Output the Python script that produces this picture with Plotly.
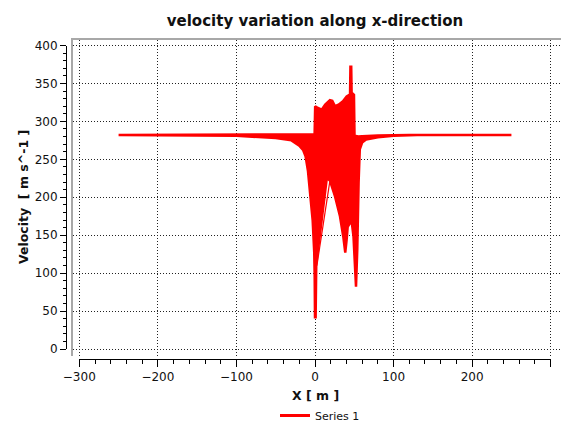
import plotly.graph_objects as go

# ---- data: velocity sampled along the x-direction line ----
# upper envelope of the sampled velocities
x_upper = [-250, -100, -50, -10, -3, -0.5, 0.2, 3, 8.5, 13, 19, 22, 25.5, 30, 35.6,
           40.3, 43.7, 44.6, 45.1, 46.1, 46.6, 48, 49.6, 50.3, 55, 60, 80, 120, 250]
v_upper = [282, 282.5, 282.5, 283, 283, 283, 320, 318, 315.5, 322, 328, 327, 320, 322, 326.5,
           333, 335, 336, 372, 372, 338, 336, 335, 281, 280, 280.5, 281.5, 282, 282]

# lower envelope of the sampled velocities
x_lower = [-250, -100, -50, -30, -20, -15, -12, -9, -6, -3, -1, -0.4, 0, 0.8, 1.6, 15, 19,
           25.5, 31.8, 36, 38.5, 40.3, 41.6, 44.6, 46.7, 49, 52.2, 53.8, 55.5, 57, 60, 65,
           80, 100, 130, 250]
v_lower = [282, 281, 278, 275, 268, 262, 254, 235, 205, 170, 128, 95, 42, 42, 112, 225, 222,
           201, 175, 148, 127, 144, 161, 166, 168, 148, 82, 131, 219, 263, 272, 276,
           279, 281, 282, 282]

# stray segment crossing the gap just right of x = 0
x_seg = [2.4, 19]
v_seg = [110, 222]

x_ticks = [-300, -200, -100, 0, 100, 200, 300]
y_ticks = [0, 50, 100, 150, 200, 250, 300, 350, 400]

# ---- layout geometry (pixels) ----
W, H = 561, 422
X_LEFT, X_RIGHT = 79.3, 550.7      # x = -300 and x = 300
Y_TOP, Y_BOT = 45.5, 349.0         # v = 400 and v = 0
FRAME_L, FRAME_T, FRAME_R, FRAME_B = 73, 40, 561, 356
X_AXIS_Y = 359                     # detached x axis line
Y_AXIS_X = 66                      # detached y axis line

sx = (X_RIGHT - X_LEFT) / (x_ticks[-1] - x_ticks[0])
sy = (Y_BOT - Y_TOP) / (y_ticks[-1] - y_ticks[0])
frame_xrange = [x_ticks[0] - (X_LEFT - FRAME_L) / sx, x_ticks[-1] + (FRAME_R - X_RIGHT) / sx]
frame_yrange = [y_ticks[0] - (FRAME_B - Y_BOT) / sy, y_ticks[-1] + (Y_TOP - FRAME_T) / sy]

RED = "#ff0000"
FONT = "DejaVu Sans"
GRID_DASH = "1px,2px"

fig = go.Figure()

# panel axes (frame + dotted grid); an invisible helper trace keeps them drawn
fig.add_trace(go.Scatter(x=x_upper, y=v_upper, mode="markers", marker=dict(opacity=0),
                         hoverinfo="skip", showlegend=False, xaxis="x", yaxis="y"))

# filled band between the envelopes
fig.add_trace(go.Scatter(
    x=x_upper + x_lower[::-1], y=v_upper + v_lower[::-1],
    mode="lines", fill="toself", fillcolor=RED,
    line=dict(color=RED, width=2.5), showlegend=False,
    xaxis="x2", yaxis="y2"))

fig.add_trace(go.Scatter(x=x_seg, y=v_seg, mode="lines", line=dict(color=RED, width=1.2),
                         showlegend=False, xaxis="x2", yaxis="y2"))

# legend entry
fig.add_trace(go.Scatter(x=[None], y=[None], mode="lines", name="Series 1",
                         line=dict(color=RED, width=3), xaxis="x2", yaxis="y2"))

fig.update_layout(
    width=W, height=H,
    margin=dict(l=0, r=0, t=0, b=0, autoexpand=False),
    paper_bgcolor="white", plot_bgcolor="rgba(0,0,0,0)",
    font=dict(family=FONT, size=12, color="#111"),
    title=dict(text="velocity variation along x-direction",
               x=315 / W, y=1 - 21 / H, xanchor="center", yanchor="middle",
               xref="paper", yref="container",
               font=dict(family=FONT, size=15, weight="bold", color="#111")),
    xaxis=dict(domain=[FRAME_L / W, FRAME_R / W], range=frame_xrange, anchor="y",
               side="top", showline=True, linecolor="#a8a8a8", linewidth=2,
               showgrid=True, gridcolor="#222", gridwidth=1, griddash=GRID_DASH,
               tickmode="linear", tick0=0, dtick=100, ticks="", showticklabels=False,
               zeroline=False, fixedrange=True),
    yaxis=dict(domain=[1 - FRAME_B / H, 1 - FRAME_T / H], range=frame_yrange, anchor="x",
               side="left", showline=True, linecolor="#a8a8a8", linewidth=2,
               showgrid=True, gridcolor="#222", gridwidth=1, griddash=GRID_DASH,
               tickmode="linear", tick0=0, dtick=50, ticks="", showticklabels=False,
               zeroline=False, fixedrange=True),
    xaxis2=dict(domain=[X_LEFT / W, X_RIGHT / W], range=[x_ticks[0], x_ticks[-1]],
                anchor="free", position=1 - X_AXIS_Y / H,
                showline=True, linecolor="black", linewidth=1,
                tickmode="linear", tick0=0, dtick=100,
                ticks="outside", ticklen=7, tickcolor="black", tickwidth=1,
                minor=dict(dtick=20, tick0=0, ticks="outside", ticklen=4,
                           tickcolor="black", showgrid=False),
                showgrid=False, zeroline=False,
                tickfont=dict(family=FONT, size=12, color="#111")),
    yaxis2=dict(domain=[1 - Y_BOT / H, 1 - Y_TOP / H], range=[y_ticks[0], y_ticks[-1]],
                anchor="free", position=Y_AXIS_X / W, side="left",
                showline=True, linecolor="black", linewidth=1,
                tickmode="linear", tick0=0, dtick=50,
                ticks="outside", ticklen=6, tickcolor="black", tickwidth=1,
                minor=dict(dtick=10, tick0=0, ticks="outside", ticklen=3,
                           tickcolor="black", showgrid=False),
                showgrid=False, zeroline=False,
                tickfont=dict(family=FONT, size=12, color="#111")),
    legend=dict(orientation="h", x=275 / W, y=1 - 401 / H, xanchor="left", yanchor="top",
                font=dict(family=FONT, size=11, color="#111"), bgcolor="rgba(0,0,0,0)"),
    annotations=[
        dict(text="X [ m ]", x=315 / W, y=1 - 395 / H, xref="paper", yref="paper",
             xanchor="center", yanchor="middle", showarrow=False,
             font=dict(family=FONT, size=12.5, weight="bold", color="#111")),
        dict(text="Velocity  [ m s^-1 ]", x=23 / W, y=1 - 197 / H, xref="paper", yref="paper",
             xanchor="center", yanchor="middle", showarrow=False, textangle=-90,
             font=dict(family=FONT, size=12.5, weight="bold", color="#111")),
    ],
)

fig.write_html("out.html")
